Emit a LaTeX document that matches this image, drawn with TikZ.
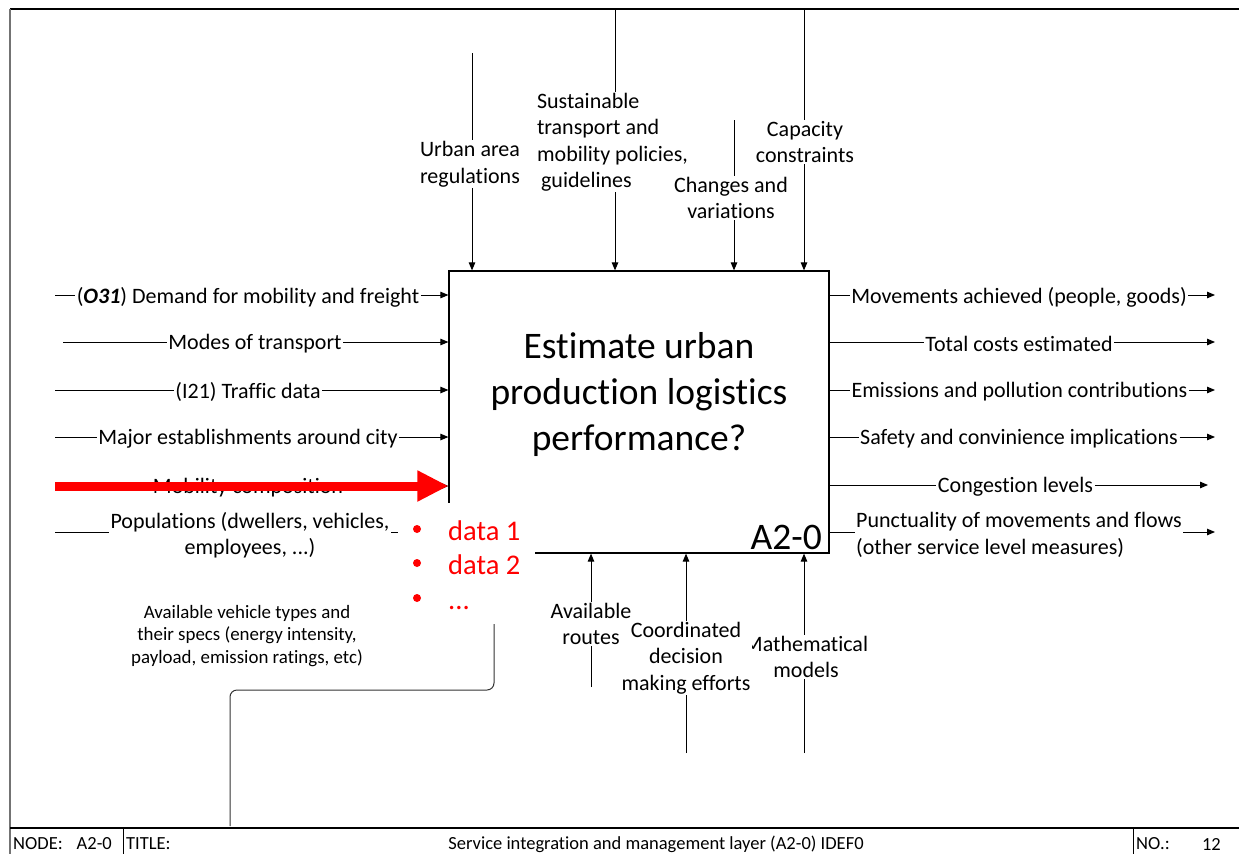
\documentclass[tikz,border=0pt]{standalone}
\usepackage{fontspec}
\setmainfont{Carlito}[Ligatures={NoCommon}]
\usetikzlibrary{arrows.meta}
\begin{document}
\begin{tikzpicture}[x=1pt,y=-1pt,
  wire/.style={line width=1pt},
  flow/.style={line width=1pt,-{Triangle[length=8pt,width=6.5pt]}},
  lbl/.style={fill=white,inner xsep=1.5pt,inner ysep=1pt,yshift=-2pt,align=center,font=\fontsize{22}{26.5}\selectfont},
  small/.style={align=center,inner sep=0pt,font=\fontsize{18.9}{22.5}\selectfont},
  foot/.style={inner sep=0pt,yshift=-2pt,font=\fontsize{18.5}{22}\selectfont},
  note/.style={text=red,anchor=base west,inner sep=0pt,font=\fontsize{28.5}{35}\selectfont}]
\useasboundingbox (0,0) rectangle (1239,854);

% sheet frame and footer row
\draw[line width=2pt] (10,9) -- (1239,9);
\draw[line width=2pt,black!55] (10,9) -- (10,854);
\draw[line width=1.5pt] (10,828) -- (1239,828);
\draw[line width=1pt] (123,828) -- (123,854);
\draw[line width=1pt] (1133,828) -- (1133,854);
\node[foot,anchor=west] (fnode) at (13,842) {NODE:\hspace{14pt}A2-0};
\node[foot,anchor=west] (ftitle) at (126,842) {TITLE:};
\node[foot] (fname) at (656,842) {Service integration and management layer (A2-0) IDEF0};
\node[foot,anchor=west] (fno) at (1136,842) {NO.:};
\node[foot,anchor=east] (fnum) at (1221,842) {12};

% activity box
\node[draw,line width=1.2pt,minimum width=380pt,minimum height=282pt,inner sep=0pt] (A) at (639,412) {};
\node[align=center,font=\fontsize{37.5}{46}\selectfont] (title) at (639,394) {Estimate urban\\production logistics\\performance?};
\node[anchor=base east,inner sep=0pt,font=\fontsize{37.5}{46}\selectfont] (num) at (822,549) {A2-0};

% inputs
\coordinate (i1) at (55,295);
\coordinate (i2) at (63,342);
\coordinate (i3) at (55,390);
\coordinate (i4) at (55,437);
\coordinate (i5) at (55,486);
\coordinate (i6) at (55,532);
\node[lbl] (l1) at (248,295) {(\textbf{\textit{O31}}) Demand for mobility and freight};
\node[lbl] (l2) at (255,342) {Modes of transport};
\node[lbl] (l3) at (248,390) {(I21) Traffic data};
\node[lbl] (l4) at (248,437) {Major establishments around city};
\node[lbl] (l5) at (248,486) {Mobility composition};
\node[lbl] (l6) at (250,533) {Populations (dwellers, vehicles,\\employees, ...)};
\foreach \k in {1,...,6}{
  \draw[wire] (i\k) -- (i\k -| l\k.west);
  \draw[flow] (i\k -| l\k.east) -- (i\k -| A.west);
}

% outputs
\coordinate (e1) at (1215,295);
\coordinate (e2) at (1215,342);
\coordinate (e3) at (1215,390);
\coordinate (e4) at (1215,437);
\coordinate (e5) at (1208,485);
\coordinate (e6) at (1215,532);
\node[lbl] (o1) at (1019,295) {Movements achieved (people, goods)};
\node[lbl] (o2) at (1019,342) {Total costs estimated};
\node[lbl] (o3) at (1019.5,390) {Emissions and pollution contributions};
\node[lbl] (o4) at (1019,437) {Safety and convinience implications};
\node[lbl] (o5) at (1015.5,485) {Congestion levels};
\node[lbl,align=left] (o6) at (1019,533) {Punctuality of movements and flows\\(other service level measures)};
\foreach \k in {1,...,6}{
  \draw[wire] (e\k -| A.east) -- (e\k -| o\k.west);
  \draw[flow] (e\k -| o\k.east) -- (e\k);
}

% controls
\coordinate (s1) at (472,53);
\coordinate (s2) at (615,9);
\coordinate (s3) at (734,120);
\coordinate (s4) at (804,9);
\node[lbl] (c1) at (470,162) {Urban area\\regulations};
\node[lbl,align=left] (c2) at (612.5,140) {Sustainable\\transport and\\mobility policies,\\\hspace{4pt}guidelines};
\node[lbl] (c3) at (731,196) {Changes and\\variations};
\node[lbl] (c4) at (805,140) {Capacity\\constraints};
\foreach \k in {1,...,4}{
  \draw[wire] (s\k) -- (s\k |- c\k.north);
  \draw[flow] (s\k |- c\k.south) -- (s\k |- A.north);
}

% mechanisms
\coordinate (b1) at (591,687);
\coordinate (b2) at (686,753);
\coordinate (b3) at (804,753);
\node[lbl] (m3) at (806,655) {Mathematical\\models};
\node[lbl] (m1) at (591,622) {Available\\routes};
\node[lbl] (m2) at (686,656) {Coordinated\\decision\\making efforts};
\foreach \k in {1,2,3}{
  \draw[wire] (b\k) -- (b\k |- m\k.south);
  \draw[flow] (b\k |- m\k.north) -- (b\k |- A.south);
}

% vehicle types mechanism, routed from the lower edge
\coordinate (veh) at (230,826);
\coordinate (vturn) at (494,690);
\node[small] (vlbl) at (247,636) {Available vehicle types and\\their specs (energy intensity,\\payload, emission ratings, etc)};
\draw[flow,black!80,rounded corners=7pt] (veh) |- (vturn) -- (vturn |- A.south);

% red annotation list
\node[fill=white,minimum width=137pt,minimum height=121pt,inner sep=0pt] (notes) at (466.5,563.5) {};
\fill[red] (417,529) circle (4pt);
\fill[red] (417,563) circle (4pt);
\fill[red] (417,598) circle (4pt);
\node[note] (d1) at (448,540) {data 1};
\node[note] (d2) at (448,574) {data 2};
\node[note] (d3) at (448,609) {...};

% red highlight arrow
\coordinate (rs) at (55,486);
\draw[red,line width=9pt,-{Triangle[length=31pt,width=29pt]}] (rs) -- (rs -| A.west);
\end{tikzpicture}
\end{document}
